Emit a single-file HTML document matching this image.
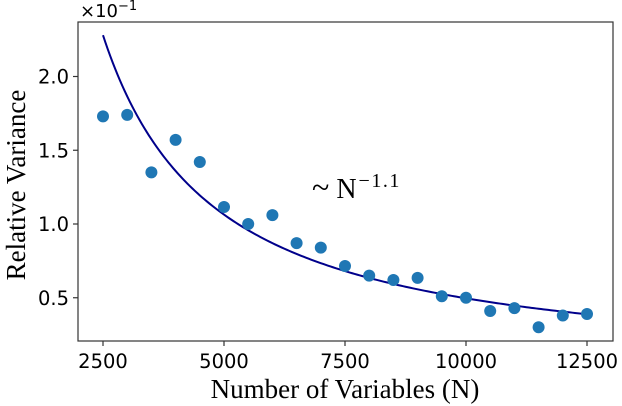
<!DOCTYPE html>
<html><head><meta charset="utf-8"><style>
html,body{margin:0;padding:0;background:#fff;}
svg{display:block;}
.tick{font-family:"DejaVu Sans",sans-serif;font-size:19.5px;fill:#000;}
.lab{font-family:"Liberation Serif",serif;font-size:27px;fill:#000;}
</style></head><body>
<svg id="chart" width="622" height="406" viewBox="0 0 622 406" xmlns="http://www.w3.org/2000/svg">
<g id="marks"></g>
</svg>
<script>
const xValues=[2500,3000,3500,4000,4500,5000,5500,6000,6500,7000,7500,8000,8500,9000,9500,10000,10500,11000,11500,12000,12500];
const yValues=[1.73,1.74,1.35,1.57,1.42,1.115,1.0,1.06,0.87,0.84,0.715,0.65,0.62,0.635,0.51,0.50,0.41,0.43,0.30,0.38,0.39];
const xTicks=[2500,5000,7500,10000,12500];
const yTicks=[0.5,1.0,1.5,2.0];
const fitAt2500=[2.28];
const fitExponent=[-1.1];

const NS="http://www.w3.org/2000/svg";
const svg=document.getElementById('chart');
const L=78,T=22,R=613,B=341;
function sx(v){return 103+(v-2500)*(121/2500);}
function sy(v){return 224-(v-1)*147.5;}
function mk(tag,attrs,parent){const e=document.createElementNS(NS,tag);for(const k in attrs)e.setAttribute(k,attrs[k]);(parent||svg).appendChild(e);return e;}

let d='';
for(let n=2500;n<=12500;n+=50){const v=fitAt2500[0]*Math.pow(n/2500,fitExponent[0]);d+=(d?'L':'M')+sx(n).toFixed(2)+','+sy(v).toFixed(2);}
const curve=mk('path',{d:d,fill:'none',stroke:'#00008b','stroke-width':2});



xValues.forEach((x,i)=>{
  const c=mk('circle',{cx:sx(x),cy:sy(yValues[i]),r:6,fill:'#1f77b4'});
  
  
});

const fr=mk('rect',{x:L,y:T,width:R-L,height:B-T,fill:'none',stroke:'#333','stroke-width':1.2});



xTicks.forEach(t=>{
  const x=sx(t);
  mk('line',{x1:x,x2:x,y1:B,y2:B+5,stroke:'#333','stroke-width':1.2});
  const tx=mk('text',{x:x,y:B+27,'text-anchor':'middle',class:'tick'});
  tx.textContent=t;
  
  
});
yTicks.forEach(t=>{
  const y=sy(t);
  mk('line',{x1:L-5,x2:L,y1:y,y2:y,stroke:'#333','stroke-width':1.2});
  const tx=mk('text',{x:L-9,y:y+7,'text-anchor':'end',class:'tick'});
  tx.textContent=t.toFixed(1);
  
  
});
</script>
<svg style="position:absolute;left:0;top:0" width="622" height="406">
<text x="80" y="17" class="tick" style="font-size:18px">×10<tspan dy="-7" font-size="13">−1</tspan></text>
<text x="312" y="198" class="lab" style="font-size:28px"><tspan font-size="32">~</tspan> N<tspan dx="2" dy="-11" font-size="20" letter-spacing="1.5">−1.1</tspan></text>
<text x="345" y="398" text-anchor="middle" class="lab">Number of Variables (N)</text>
<text transform="translate(25,185) rotate(-90)" text-anchor="middle" class="lab">Relative Variance</text>
</svg>
</body></html>
